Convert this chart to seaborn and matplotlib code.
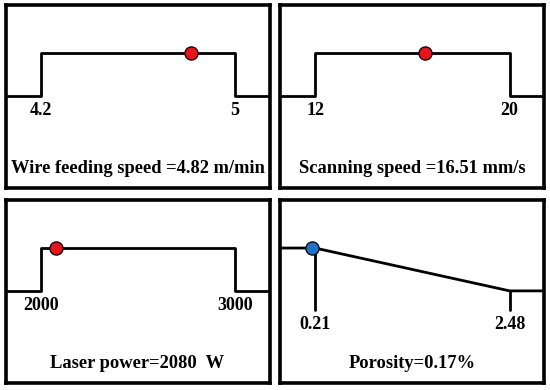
import numpy as np
import pandas as pd
import seaborn as sns
import matplotlib.pyplot as plt

sns.set_style('white')
plt.rcParams['font.family'] = ['Liberation Serif', 'DejaVu Serif']
plt.rcParams['text.color'] = 'black'

# desirability 범위 (하한, 상한) 과 최적값
titles = ['Wire feeding speed =4.82 m/min', 'Scanning speed =16.51 mm/s',
          'Laser power=2080  W', 'Porosity=0.17%']
lows = [4.2, 12, 2000, 0.21]
highs = [5, 20, 3000, 2.48]
optimum = [4.82, 16.51, 2080, 0.17]
low_labels = ['4.2', '12', '2000', '0.21']
high_labels = ['5', '20', '3000', '2.48']
shapes = ['target', 'target', 'target', 'minimize']
dot_colors = ['#e8141b', '#e8141b', '#e8141b', '#1f72c4']

fig = plt.figure(figsize=(5.5, 3.9), dpi=100)
positions = [[0.010, 0.518, 0.480, 0.469], [0.509, 0.518, 0.480, 0.469],
             [0.010, 0.018, 0.480, 0.469], [0.509, 0.018, 0.480, 0.469]]

for i in range(4):
    ax = fig.add_axes(positions[i])
    lo, hi = lows[i], highs[i]
    width = (hi - lo) / (1 - 0.133 - 0.13)
    xmin, xmax = lo - 0.133 * width, hi + 0.13 * width
    if shapes[i] == 'target':
        d = pd.DataFrame({'x': [xmin, lo, lo, hi, hi, xmax], 'y': [0, 0, 1, 1, 0, 0]})
        ylab = -0.33
    else:
        d = pd.DataFrame({'x': [xmin, lo, hi, xmax], 'y': [1, 1, 0, 0]})
        ax.plot([lo, lo], [1, -0.45], color='black', lw=2)
        ax.plot([hi, hi], [0, -0.45], color='black', lw=2)
        ylab = -0.78
    sns.lineplot(data=d, x='x', y='y', sort=False, estimator=None, color='black', lw=2, ax=ax)
    ax.plot([optimum[i]], [1], 'o', ms=9.5, mfc=dot_colors[i], mec='black', mew=0.9, zorder=5)
    ax.text(lo, ylab, low_labels[i], ha='center', va='center', fontsize=13, fontweight='bold')
    ax.text(hi, ylab, high_labels[i], ha='center', va='center', fontsize=13, fontweight='bold')
    ax.text(0.5, 0.105, titles[i], transform=ax.transAxes, ha='center', va='center',
            fontsize=13.3, fontweight='bold')
    ax.set_xlim(xmin, xmax)
    ax.set_ylim(-2.15, 2.12)
    ax.set_xticks([])
    ax.set_yticks([])
    ax.set_xlabel('')
    ax.set_ylabel('')
    for s in ax.spines.values():
        s.set_linewidth(2.6)
        s.set_color('black')

fig.savefig('out.png', dpi=100)
